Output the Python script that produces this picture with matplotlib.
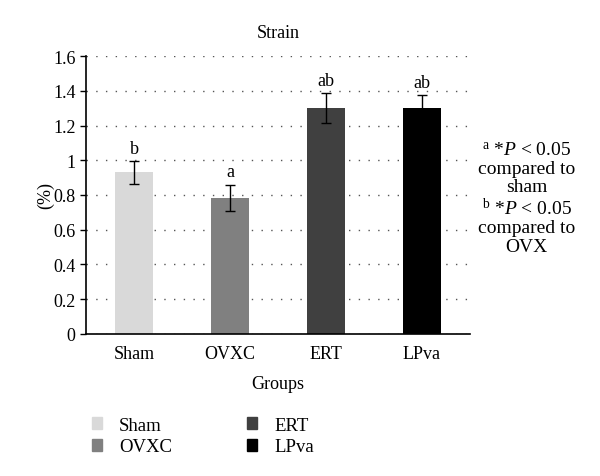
import matplotlib
matplotlib.use("Agg")
import matplotlib.pyplot as plt
from matplotlib.patches import Patch

groups = ["Sham", "OVXC", "ERT", "LPva"]
strain = [0.93, 0.785, 1.30, 1.30]
sem = [0.065, 0.075, 0.085, 0.075]
letters = ["b", "a", "ab", "ab"]
colors = ["#d9d9d9", "#808080", "#404040", "#000000"]
yticks = [0, 0.2, 0.4, 0.6, 0.8, 1, 1.2, 1.4, 1.6]

plt.rcParams["font.family"] = ["Liberation Serif", "DejaVu Serif"]
plt.rcParams["mathtext.fontset"] = "custom"
plt.rcParams["mathtext.it"] = "Liberation Serif:italic"
plt.rcParams["mathtext.rm"] = "Liberation Serif"

fig = plt.figure(figsize=(6, 4.77), dpi=100)
ax = fig.add_axes([0.1433, 0.2977, 0.64, 0.5828])

xs = range(len(groups))
ax.bar(xs, strain, 0.4, color=colors, zorder=2)
ax.errorbar(xs, strain, yerr=sem, fmt="none", ecolor="black", elinewidth=1,
            capsize=3.5, capthick=1, zorder=3)
for x, v, e, t in zip(xs, strain, sem, letters):
    ax.text(x, v + e + 0.025, t, ha="center", va="bottom", fontsize=13)

ax.set_xlim(-0.5, 3.5)
ax.set_ylim(0, 1.6)
ax.set_yticks(yticks)
ax.set_yticklabels([f"{t:g}" for t in yticks], fontsize=13)
ax.set_xticks(list(xs))
ax.set_xticklabels(groups, fontsize=13)
ax.tick_params(axis="x", length=0, pad=8)
ax.tick_params(axis="y", length=4, width=1, direction="out")
ax.yaxis.grid(True, linestyle=(0, (1, 6)), color="#555555", linewidth=1)
ax.set_axisbelow(True)
for s in ["top", "right"]:
    ax.spines[s].set_visible(False)
ax.spines["left"].set_linewidth(1.2)
ax.spines["bottom"].set_linewidth(1.2)

ax.set_title("Strain", fontsize=13, pad=14)
ax.set_ylabel("(%)", fontsize=13, labelpad=-1)
ax.set_xlabel("Groups", fontsize=13, labelpad=9)

note = ("$^{\\mathrm{a}}$ *$\\it{P}$ < 0.05\ncompared to\nsham\n"
        "$^{\\mathrm{b}}$ *$\\it{P}$ < 0.05\ncompared to\nOVX")
fig.text(0.878, 0.583, note, ha="center", va="center", fontsize=14,
         linespacing=1.1)

handles = [Patch(color=c) for c in colors]
fig.legend(handles, groups, loc="upper left", bbox_to_anchor=(0.125, 0.16),
           ncol=2, frameon=False, fontsize=13.5, handlelength=0.55,
           handleheight=0.6, columnspacing=4.0, labelspacing=0.25,
           handletextpad=0.9)

fig.savefig("out.png", dpi=100)
